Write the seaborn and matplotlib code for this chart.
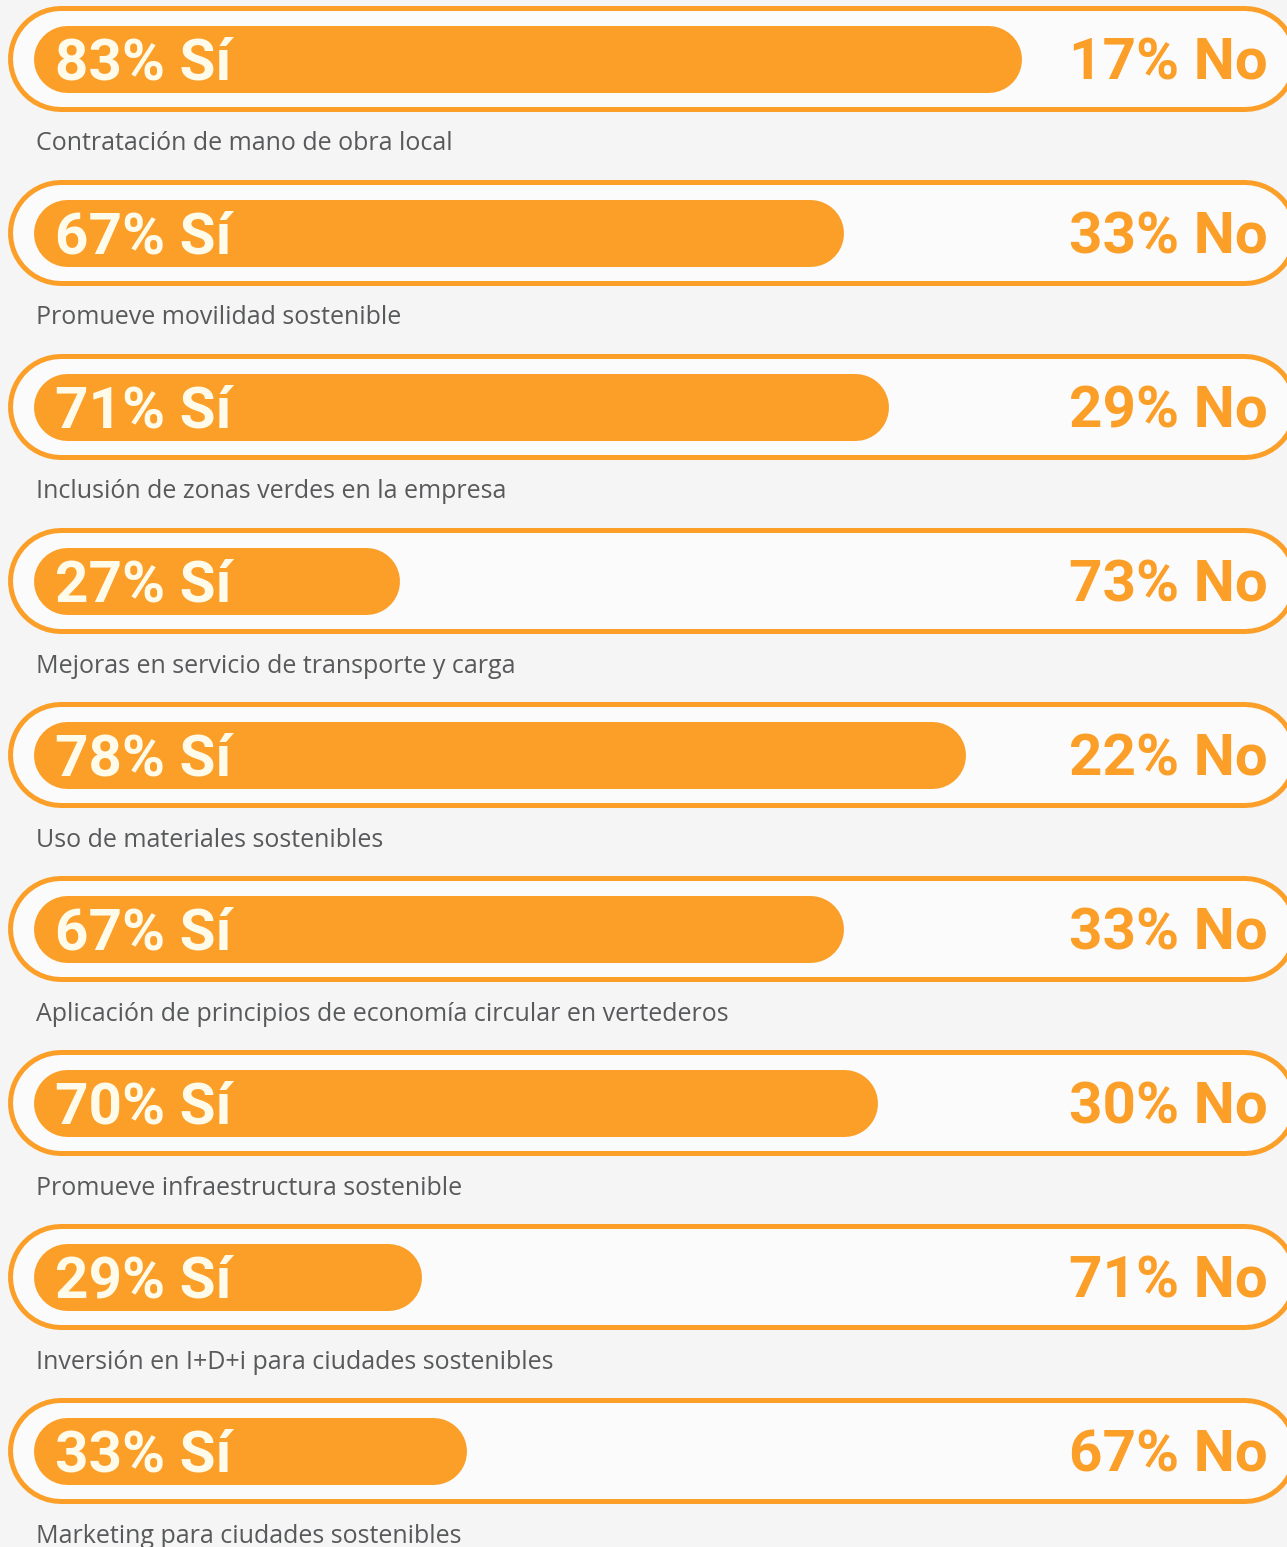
import matplotlib
matplotlib.use("Agg")
import matplotlib.pyplot as plt
import seaborn as sns
import pandas as pd

# data
temas = [
    "Contratación de mano de obra local",
    "Promueve movilidad sostenible",
    "Inclusión de zonas verdes en la empresa",
    "Mejoras en servicio de transporte y carga",
    "Uso de materiales sostenibles",
    "Aplicación de principios de economía circular en vertederos",
    "Promueve infraestructura sostenible",
    "Inversión en I+D+i para ciudades sostenibles",
    "Marketing para ciudades sostenibles",
]
si = [83, 67, 71, 27, 78, 67, 70, 29, 33]
no = [17, 33, 29, 73, 22, 33, 30, 71, 67]

df = pd.DataFrame({"tema": temas, "si": si, "no": no})

ORANGE = "#fb9f29"
BG = "#f5f5f5"
INNER = "#fbfbfb"
CREAM = "#fffbea"
GREY = "#58595b"

W, H = 1287, 1547
X0, PPU = 66.5, 11.1       # pixel of 0 % and pixels per percent
Y0, PITCH = 59.0, 174.0    # pixel of first row centre and row pitch
PT = 0.72                  # points per pixel at dpi 100

sns.set_theme(style="white")
fig = plt.figure(figsize=(W / 100, H / 100), dpi=100, facecolor=BG)
ax = fig.add_axes([0, 0, 1, 1])
ax.set_facecolor(BG)

sns.barplot(data=df, x="si", y="tema", orient="h", color=ORANGE,
            width=67 / PITCH, ax=ax, zorder=3)

ax.set_xlim(-X0 / PPU, (W - X0) / PPU)
ax.set_ylim((H - Y0) / PITCH, -Y0 / PITCH)
ax.axis("off")

# outer capsules: thick orange stroke with a lighter stroke on top
cap_l = (61 - X0) / PPU
cap_r = (1245 - X0) / PPU
for i in range(len(temas)):
    ax.plot([cap_l, cap_r], [i, i], color=ORANGE, lw=106 * PT,
            solid_capstyle="round", zorder=1)
    ax.plot([cap_l, cap_r], [i, i], color=INNER, lw=96 * PT,
            solid_capstyle="round", zorder=2)

# turn seaborn bars into pills with round ends
for bar in list(ax.patches):
    x, w = bar.get_x(), bar.get_width()
    yc = bar.get_y() + bar.get_height() / 2
    bar.remove()
    ax.plot([x, x + w], [yc, yc], color=ORANGE, lw=67 * PT,
            solid_capstyle="round", zorder=3)

tr = ax.get_yaxis_transform()
for i, row in df.iterrows():
    ax.text(55 / W, i + 5 / PITCH, f"{row['si']}% Sí", transform=tr,
            ha="left", va="center", fontsize=42, fontweight="bold",
            family="Roboto", color=CREAM, zorder=4)
    ax.text(1268 / W, i + 5 / PITCH, f"{row['no']}% No", transform=tr,
            ha="right", va="center", fontsize=42, fontweight="bold",
            family="Roboto", color=ORANGE, zorder=4)
    ax.text(36 / W, i + 85 / PITCH, row["tema"], transform=tr,
            ha="left", va="center", fontsize=18, family="Open Sans",
            color=GREY, zorder=4)

fig.savefig("out.png", dpi=100, facecolor=BG)
